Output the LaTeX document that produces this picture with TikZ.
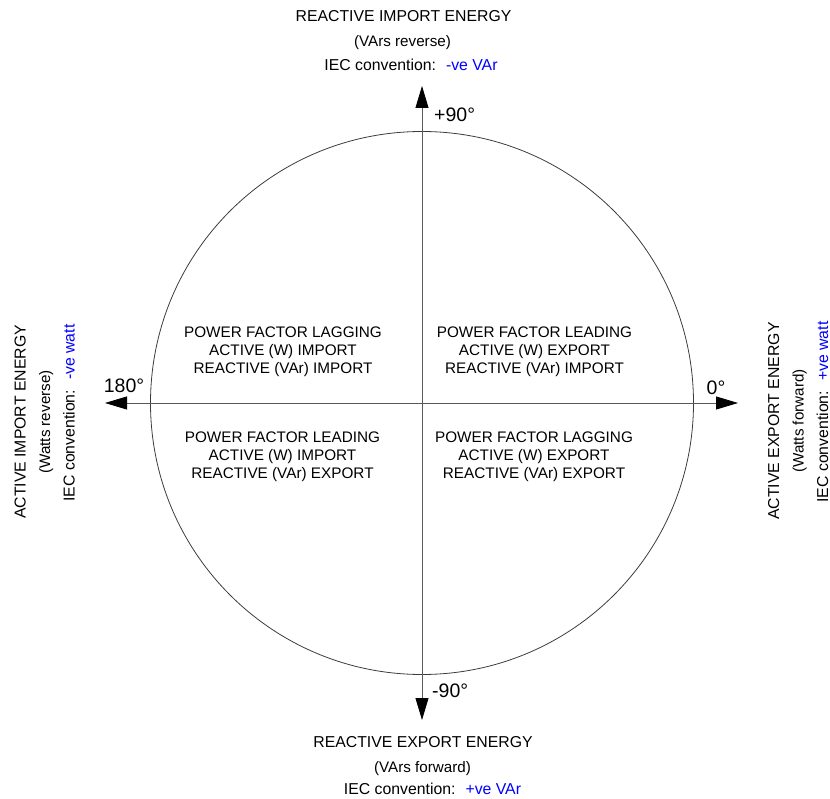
\documentclass[tikz,border=0pt]{standalone}
\usepackage{fontspec}
\setmainfont{Liberation Sans}
\usetikzlibrary{arrows.meta}
\definecolor{iecblue}{RGB}{0,0,255}
\definecolor{axisgray}{RGB}{90,90,90}
\definecolor{circgray}{RGB}{60,60,60}
\begin{document}
\begin{tikzpicture}[x=1pt,y=-1pt,
  lbl/.style={inner sep=0pt, font=\fontsize{15.2}{18}\selectfont},
  iec/.style={inner sep=0pt, font=\fontsize{15.8}{18}\selectfont},
  ttl/.style={inner sep=0pt, font=\fontsize{15.8}{18}\selectfont},
  deg/.style={inner sep=0pt, font=\fontsize{19.5}{22}\selectfont},
  quad/.style={inner sep=0pt, align=center, anchor=north, font=\fontsize{15.3}{17.7}\selectfont},
  axisline/.style={draw=axisgray, line width=0.8pt,
    {Triangle[length=22pt,width=13pt,color=black]}-{Triangle[length=22pt,width=13pt,color=black]}},
]
\useasboundingbox (0,0) rectangle (830,799);
\coordinate (O) at (422,403);
\draw[circgray, line width=0.8pt] (O) circle[radius=271.5pt];
\coordinate (top) at (422,86);
\coordinate (bottom) at (422,720);
\coordinate (left) at (105,403);
\coordinate (right) at (738,403);
\draw[axisline] (bottom) -- (top);
\draw[axisline] (left) -- (right);

% top
\node[ttl, anchor=base] (rie) at (403.5,21.3) {REACTIVE IMPORT ENERGY};
\node[lbl, anchor=base] (vrev) at (402.5,47) {(VArs reverse)};
\node[iec, anchor=base] (ieca) at (411,71) {IEC convention:\hspace{10pt}\textcolor{iecblue}{-ve VAr}};
% bottom
\node[ttl, anchor=base] (ree) at (423,747) {REACTIVE EXPORT ENERGY};
\node[lbl, anchor=base] (vfwd) at (422.5,772) {(VArs forward)};
\node[iec, anchor=base] (iecb) at (432.5,794) {IEC convention:\hspace{10pt}\textcolor{iecblue}{+ve VAr}};
% left
\node[ttl, anchor=base, rotate=90] (aie) at (25.5,422) {ACTIVE IMPORT ENERGY};
\node[lbl, anchor=base, rotate=90] (wrev) at (50,422) {(Watts reverse)};
\node[iec, anchor=base, rotate=90] (iecl) at (74.5,413) {IEC convention:\hspace{10pt}\textcolor{iecblue}{-ve watt}};
% right
\node[ttl, anchor=base, rotate=90] (aee) at (779,421) {ACTIVE EXPORT ENERGY};
\node[lbl, anchor=base, rotate=90] (wfwd) at (803.5,421) {(Watts forward)};
\node[iec, anchor=base, rotate=90] (iecr) at (828,412) {IEC convention:\hspace{10pt}\textcolor{iecblue}{+ve watt}};

% degree labels
\node[deg, anchor=base west] (p90) at (434,122) {+90°};
\node[deg, anchor=base west] (m90) at (432,697) {-90°};
\node[deg, anchor=base] (d180) at (124,393) {180°};
\node[deg, anchor=base] (d0) at (716,395) {0°};

% quadrants
\node[quad] (q1) at (283,327) {POWER FACTOR LAGGING\\ACTIVE (W) IMPORT\\REACTIVE (VAr) IMPORT};
\node[quad] (q2) at (534.5,327) {POWER FACTOR LEADING\\ACTIVE (W) EXPORT\\REACTIVE (VAr) IMPORT};
\node[quad] (q3) at (282.5,432) {POWER FACTOR LEADING\\ACTIVE (W) IMPORT\\REACTIVE (VAr) EXPORT};
\node[quad] (q4) at (534,432) {POWER FACTOR LAGGING\\ACTIVE (W) EXPORT\\REACTIVE (VAr) EXPORT};
\end{tikzpicture}
\end{document}
